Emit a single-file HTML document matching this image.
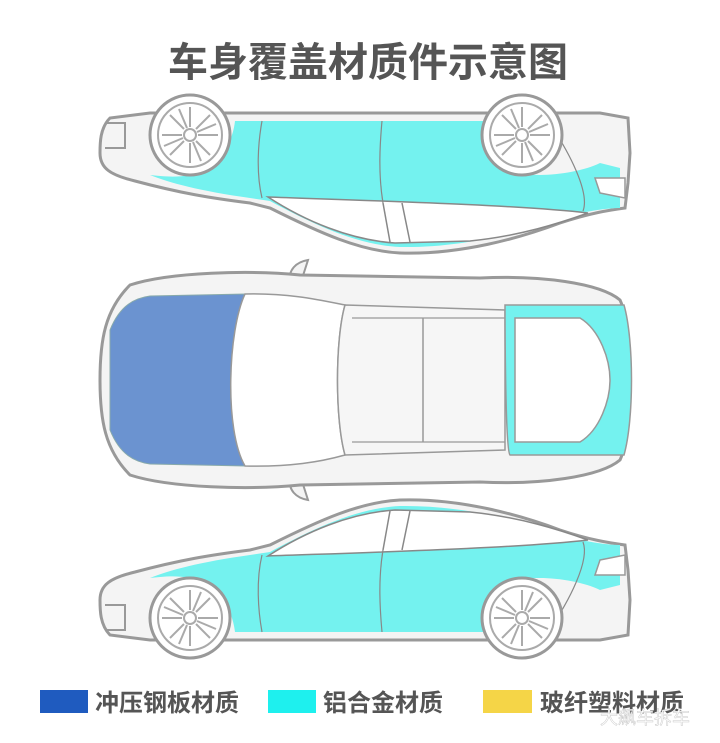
<!DOCTYPE html>
<html><head><meta charset="utf-8"><style>
body{margin:0;background:#fff;width:720px;height:738px;overflow:hidden;font-family:"Liberation Sans","Noto Sans CJK SC",sans-serif}
</style></head><body>
<svg width="720" height="738" viewBox="0 0 720 738" xmlns="http://www.w3.org/2000/svg">
<defs>
<g id="wheel">
<circle r="40" fill="#fff" stroke="#999" stroke-width="3"/>
<circle r="32" fill="#fff" stroke="#aaa" stroke-width="2"/>
<g stroke="#aaa" stroke-width="2">
<line x1="0" y1="-8" x2="0" y2="-28"/><line x1="0" y1="8" x2="0" y2="28"/>
<line x1="-8" y1="0" x2="-28" y2="0"/><line x1="8" y1="0" x2="28" y2="0"/>
<line x1="6" y1="6" x2="20" y2="20"/><line x1="-6" y1="-6" x2="-20" y2="-20"/>
<line x1="6" y1="-6" x2="20" y2="-20"/><line x1="-6" y1="6" x2="-20" y2="20"/>
<line x1="3" y1="-7" x2="11" y2="-26"/><line x1="-3" y1="7" x2="-11" y2="26"/>
<line x1="7" y1="3" x2="26" y2="11"/><line x1="-7" y1="-3" x2="-26" y2="-11"/>
</g>
<circle r="6" fill="#fff" stroke="#aaa" stroke-width="2"/>
</g>
<g id="side">
<path d="M100,600 C100,585 110,578 135,572 C180,560 210,555 250,550 L270,545 C320,520 360,502 400,500 C460,498 520,515 560,530 C590,540 610,543 625,545 L628,570 L630,600 L628,635 L600,640 L560,640 L485,640 L230,640 L150,640 L110,635 C100,625 100,610 100,600 Z" fill="#f4f4f4" stroke="#999" stroke-width="3"/>
<path d="M150,578 C170,570 200,562 250,555 L270,552 C320,525 360,508 400,506 C460,505 520,520 560,535 C590,543 610,545 620,545 L620,585 L600,590 C580,580 540,575 520,580 C495,590 485,610 483,632 L235,632 C232,605 215,585 190,578 C175,575 160,577 150,578 Z" fill="#74f2ef"/>
<path d="M268,556 C305,532 350,513 395,510 L470,512 C520,517 560,530 588,540 C520,548 380,552 268,556 Z" fill="#fff" stroke="#888" stroke-width="1.5"/>
<line x1="390" y1="511" x2="383" y2="550" stroke="#888" stroke-width="1.5"/>
<line x1="410" y1="511" x2="402" y2="550" stroke="#888" stroke-width="1.5"/>
<path d="M262,555 C256,580 258,610 262,632" fill="none" stroke="#888" stroke-width="1.2"/>
<path d="M383,550 C378,580 380,610 382,632" fill="none" stroke="#888" stroke-width="1.2"/>
<path d="M583,542 C590,560 570,600 548,632" fill="none" stroke="#888" stroke-width="1.2"/>
<path d="M600,560 L625,555 L625,575 L595,575 Z" fill="#fff" stroke="#999" stroke-width="1.5"/>
<path d="M105,605 L125,605 L125,630 L105,630" fill="none" stroke="#999" stroke-width="2"/>
<use href="#wheel" x="190" y="618"/>
<use href="#wheel" x="522" y="618"/>
</g>
</defs>
<text x="368" y="76" text-anchor="middle" font-size="40" font-weight="bold" fill="#555" font-family="'Liberation Sans','Noto Sans CJK SC',sans-serif">车身覆盖材质件示意图</text>

<use href="#side" transform="translate(0,753) scale(1,-1)"/>
<use href="#side"/>

<!-- top view -->
<path d="M290,282 C288,270 296,262 308,260 L300,285 Z" fill="#f4f4f4" stroke="#999" stroke-width="2"/>
<path d="M290,478 C288,490 296,498 308,500 L300,475 Z" fill="#f4f4f4" stroke="#999" stroke-width="2"/>
<path d="M130,285 C170,272 250,270 300,275 L480,278 C540,275 600,283 620,300 C634,330 634,430 620,460 C600,477 540,485 480,482 L300,485 C250,490 170,488 130,475 C105,450 100,420 100,380 C100,340 105,310 130,285 Z" fill="#f4f4f4" stroke="#999" stroke-width="3"/>
<path d="M110,330 C120,305 135,298 150,296 L245,294 C228,330 224,430 245,466 L150,464 C135,462 120,455 110,430 Z" fill="#6b93d0" stroke="#8aa" stroke-width="1"/>
<path d="M245,294 C290,293 320,300 345,305 C335,340 335,420 345,455 C320,462 290,467 245,466 C224,430 228,330 245,294 Z" fill="#fff" stroke="#999" stroke-width="1.5"/>
<path d="M345,305 L505,310 L505,450 L345,455 C335,420 335,340 345,305 Z" fill="#f6f6f6" stroke="#999" stroke-width="1.5"/>
<line x1="423" y1="318" x2="423" y2="442" stroke="#999" stroke-width="1.5"/>
<line x1="352" y1="318" x2="505" y2="318" stroke="#999" stroke-width="1.2"/>
<line x1="352" y1="442" x2="505" y2="442" stroke="#999" stroke-width="1.2"/>
<path d="M505,305 L624,305 C634,340 634,420 624,455 L510,455 C505,450 505,310 505,305 Z" fill="#74f2ef" stroke="#999" stroke-width="1.5"/>
<path d="M515,318 L580,318 C600,330 610,360 610,380 C610,400 600,430 580,442 L515,442 Z" fill="#fff" stroke="#999" stroke-width="1.5"/>

<!-- legend -->
<rect x="40" y="690" width="48" height="23" fill="#1f5bbf"/>
<text x="95" y="711" font-size="24" font-weight="bold" fill="#555">冲压钢板材质</text>
<rect x="268" y="690" width="48" height="23" fill="#1ef0ee"/>
<text x="323" y="711" font-size="24" font-weight="bold" fill="#555">铝合金材质</text>
<rect x="483" y="690" width="49" height="23" fill="#f5d547"/>
<text x="540" y="711" font-size="24" font-weight="bold" fill="#555">玻纤塑料材质</text>
<text x="600" y="724" font-size="18" fill="#fff" stroke="#ccc" stroke-width="0.5">大飙车拆车</text>
</svg>
</body></html>
